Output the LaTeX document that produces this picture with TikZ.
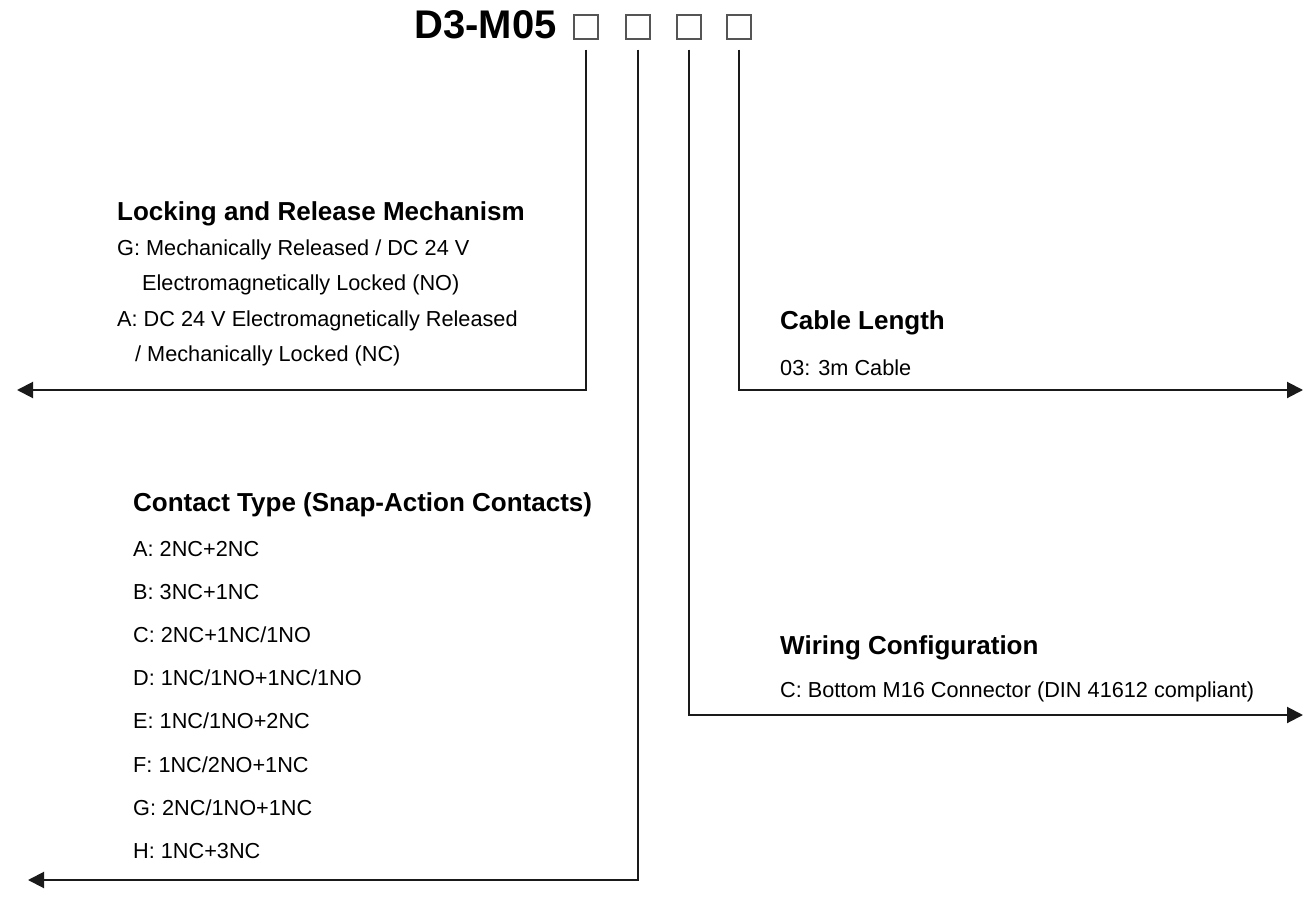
\documentclass[tikz,border=0pt]{standalone}
\usepackage{fontspec}
\setmainfont{Liberation Sans}
\usetikzlibrary{arrows.meta,positioning}
\definecolor{leader}{HTML}{1A1A1A}
\definecolor{slotgray}{HTML}{555555}
\tikzset{
  code/title/.style={font=\fontsize{40}{42}\selectfont\bfseries, anchor=base east, inner sep=0pt},
  code/slot/.style={draw=slotgray, line width=1.3pt, minimum size=24pt, inner sep=0pt},
  code/head/.style={font=\fontsize{26}{30}\selectfont\bfseries, anchor=base west, inner sep=0pt},
  code/item/.style={font=\fontsize{21.7}{26}\selectfont, anchor=base west, inner sep=0pt},
  code/leader/.style={draw=leader, line width=2pt, -{Triangle[length=16pt,width=16pt]}}
}

\begin{document}
\begin{tikzpicture}[x=1pt,y=-1pt, line join=miter]
\useasboundingbox (0,0) rectangle (1304,912);

% Type code
\node[code/title] (title) at (557,39) {D3-M05};
\foreach \x/\n in {586/1,638/2,689/3,739/4}
  \node[code/slot] (s\n) at (\x,27) {};

% Arrow ends
\coordinate (lockEnd) at (17,390);
\coordinate (contEnd) at (28,880);
\coordinate (wireEnd) at (1303,715);
\coordinate (cableEnd) at (1303,390);

% Leaders
\draw[code/leader] ([yshift=-10pt]s1.south) |- (lockEnd);
\draw[code/leader] ([yshift=-10pt]s2.south) |- (contEnd);
\draw[code/leader] ([yshift=-10pt]s3.south) |- (wireEnd);
\draw[code/leader] ([yshift=-10pt]s4.south) |- (cableEnd);

% Locking and release
\node[code/head] (lock) at (117,221) {Locking and Release Mechanism};
\node[code/item] (lockG) at (117,255) {G: Mechanically Released / DC 24 V};
\node[code/item] (lockG2) at (142,290) {Electromagnetically Locked (NO)};
\node[code/item] (lockA) at (117,326) {A: DC 24 V Electromagnetically Released};
\node[code/item] (lockA2) at (135,361) {/ Mechanically Locked (NC)};

% Contact type
\node[code/head] (cont) at (133,511) {Contact Type (Snap-Action Contacts)};
\foreach \t [count=\i] in {A: 2NC+2NC, B: 3NC+1NC, C: 2NC+1NC/1NO, D: 1NC/1NO+1NC/1NO,
    E: 1NC/1NO+2NC, F: 1NC/2NO+1NC, G: 2NC/1NO+1NC, H: 1NC+3NC}
  \node[code/item] (cont\i) at (133,{556.5+(\i-1)*43.1}) {\t};

% Cable length
\node[code/head] (cable) at (780,329) {Cable Length};
\node[code/item] (cable1) at (780,375) {03: 3m Cable};

% Wiring
\node[code/head] (wire) at (780,654) {Wiring Configuration};
\node[code/item] (wire1) at (780,697) {C: Bottom M16 Connector (DIN 41612 compliant)};
\end{tikzpicture}
\end{document}
